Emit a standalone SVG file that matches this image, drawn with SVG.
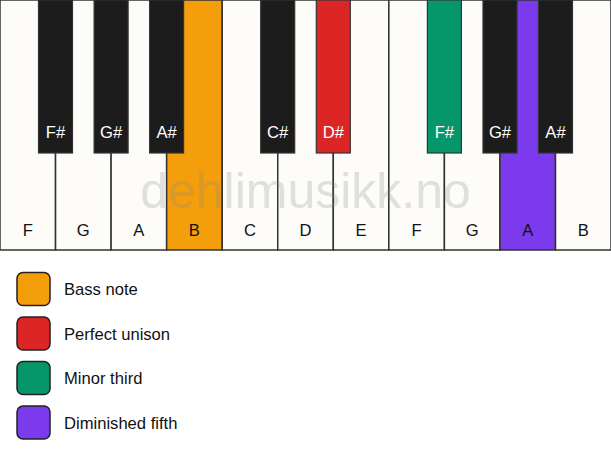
<svg xmlns="http://www.w3.org/2000/svg" width="611" height="461" viewBox="0 0 611 461">
<style>
.w{fill:#fdfcf9;stroke:#333;stroke-width:1.5}
.b{fill:#1c1c1c;stroke:#333;stroke-width:1.2}
.lw{font-family:"Liberation Sans",Arial,sans-serif;font-size:16.6px;fill:#111;text-anchor:middle}
.lb{font-family:"Liberation Sans",Arial,sans-serif;font-size:16.6px;fill:#fff;text-anchor:middle}
.lg{font-family:"Liberation Sans",Arial,sans-serif;font-size:16.6px;fill:#111}
.sw{stroke:#222;stroke-width:1.5}
.wm{font-family:"Liberation Sans",Arial,sans-serif;font-size:50px;fill:#888;fill-opacity:0.25;text-anchor:middle}
</style>
<rect width="611" height="461" fill="#ffffff"/>
<g id="white-keys">
<g id="wk-F1"><rect class="w" x="0" y="0" width="55.55" height="250"/><text class="lw" x="27.8" y="236">F</text></g>
<g id="wk-G1"><rect class="w" x="55.55" y="0" width="55.55" height="250"/><text class="lw" x="83.3" y="236">G</text></g>
<g id="wk-A1"><rect class="w" x="111.1" y="0" width="55.55" height="250"/><text class="lw" x="138.9" y="236">A</text></g>
<g id="wk-B1"><rect class="w" x="166.65" y="0" width="55.55" height="250" style="fill:#f59e0b"/><text class="lw" x="194.4" y="236">B</text></g>
<g id="wk-C"><rect class="w" x="222.2" y="0" width="55.55" height="250"/><text class="lw" x="250" y="236">C</text></g>
<g id="wk-D"><rect class="w" x="277.75" y="0" width="55.55" height="250"/><text class="lw" x="305.5" y="236">D</text></g>
<g id="wk-E"><rect class="w" x="333.3" y="0" width="55.55" height="250"/><text class="lw" x="361.1" y="236">E</text></g>
<g id="wk-F2"><rect class="w" x="388.85" y="0" width="55.55" height="250"/><text class="lw" x="416.6" y="236">F</text></g>
<g id="wk-G2"><rect class="w" x="444.4" y="0" width="55.55" height="250"/><text class="lw" x="472.2" y="236">G</text></g>
<g id="wk-A2"><rect class="w" x="499.95" y="0" width="55.55" height="250" style="fill:#7c3aed"/><text class="lw" x="527.7" y="236">A</text></g>
<g id="wk-B2"><rect class="w" x="555.5" y="0" width="55.5" height="250"/><text class="lw" x="583.3" y="236">B</text></g>
</g>
<text class="wm" x="305.5" y="208">dehlimusikk.no</text>
<g id="black-keys">
<g id="bk-Fs1"><rect class="b" x="38.5" y="0" width="34" height="153"/><text class="lb" x="55.5" y="138">F#</text></g>
<g id="bk-Gs1"><rect class="b" x="94.1" y="0" width="34" height="153"/><text class="lb" x="111.1" y="138">G#</text></g>
<g id="bk-As1"><rect class="b" x="149.6" y="0" width="34" height="153"/><text class="lb" x="166.6" y="138">A#</text></g>
<g id="bk-Cs"><rect class="b" x="260.7" y="0" width="34" height="153"/><text class="lb" x="277.7" y="138">C#</text></g>
<g id="bk-Ds"><rect class="b" x="316.3" y="0" width="34" height="153" style="fill:#dc2626"/><text class="lb" x="333.3" y="138">D#</text></g>
<g id="bk-Fs2"><rect class="b" x="427.4" y="0" width="34" height="153" style="fill:#059669"/><text class="lb" x="444.4" y="138">F#</text></g>
<g id="bk-Gs2"><rect class="b" x="483" y="0" width="34" height="153"/><text class="lb" x="500" y="138">G#</text></g>
<g id="bk-As2"><rect class="b" x="538.5" y="0" width="34" height="153"/><text class="lb" x="555.5" y="138">A#</text></g>
</g>
<g id="legend">
<g id="lg-bass"><rect class="sw" x="17" y="272.5" width="33" height="33" rx="6" fill="#f59e0b"/><text class="lg" x="64" y="295">Bass note</text></g>
<g id="lg-unison"><rect class="sw" x="17" y="317" width="33" height="33" rx="6" fill="#dc2626"/><text class="lg" x="64" y="339.5">Perfect unison</text></g>
<g id="lg-third"><rect class="sw" x="17" y="361.5" width="33" height="33" rx="6" fill="#059669"/><text class="lg" x="64" y="384">Minor third</text></g>
<g id="lg-fifth"><rect class="sw" x="17" y="406" width="33" height="33" rx="6" fill="#7c3aed"/><text class="lg" x="64" y="428.5">Diminished fifth</text></g>
</g>
</svg>
